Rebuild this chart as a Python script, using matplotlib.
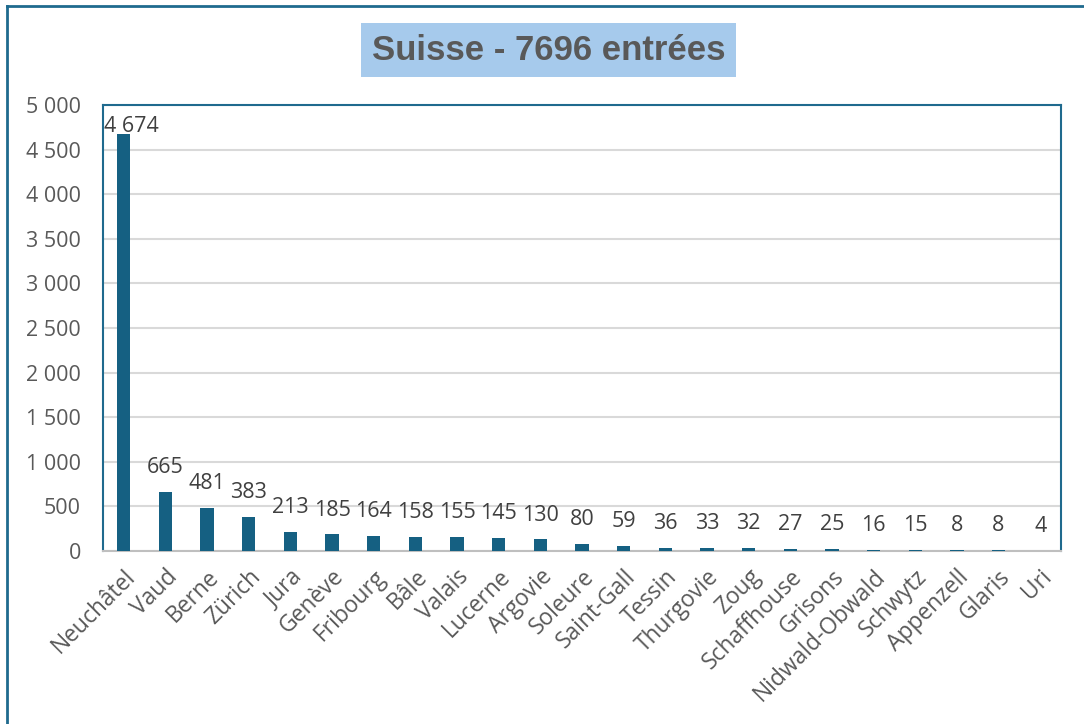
import matplotlib.pyplot as plt
import matplotlib.patches as patches
from matplotlib.lines import Line2D
import numpy as np

cantons = ["Neuchâtel", "Vaud", "Berne", "Zürich", "Jura", "Genève", "Fribourg",
           "Bâle", "Valais", "Lucerne", "Argovie", "Soleure", "Saint-Gall", "Tessin",
           "Thurgovie", "Zoug", "Schaffhouse", "Grisons", "Nidwald-Obwald", "Schwytz",
           "Appenzell", "Glaris", "Uri"]
entries = [4674, 665, 481, 383, 213, 185, 164, 158, 155, 145, 130, 80, 59, 36,
           33, 32, 27, 25, 16, 15, 8, 8, 4]
title_text = "Suisse - 7696 entrées"

barColor = "#156082"
frameColor = "#1F6A8E"
textGray = "#595959"
yMax = 5000
fs = 15.5


def fmt(v):
    return "{:,}".format(int(v)).replace(",", " ")


plt.rcParams['font.family'] = ['Open Sans', 'DejaVu Sans']

fig = plt.figure(figsize=(10.84, 7.24), dpi=100)
W, H = 1084.0, 724.0

# outer chart frame: only left and top edges show in the reference
fig.lines.append(Line2D([7 / W, 7 / W], [0, 1 - 6 / H], transform=fig.transFigure,
                        color=frameColor, linewidth=2))
fig.lines.append(Line2D([7 / W, 1.0], [1 - 6 / H, 1 - 6 / H], transform=fig.transFigure,
                        color=frameColor, linewidth=2))

# title box
fig.patches.append(patches.Rectangle((361 / W, 1 - 77 / H), 375 / W, 54 / H,
                                     transform=fig.transFigure,
                                     facecolor="#A6CAEC", edgecolor="none"))
fig.text(548.5 / W, 1 - 51 / H, title_text, ha='center', va='center',
         fontsize=25, fontweight='bold', color=textGray,
         family=['Liberation Sans', 'DejaVu Sans'])

ax = fig.add_axes([103 / W, 1 - 551 / H, (1061 - 103) / W, (551 - 105) / H])
x = np.arange(len(cantons))
ax.bar(x, entries, width=0.32, color=barColor, zorder=3)

for xi, v in zip(x, entries):
    if v > yMax * 0.9:
        # label would leave the plot area: keep it inside, like Excel does
        ax.annotate(fmt(v), (-0.5, yMax), xytext=(1, -8), textcoords='offset points',
                    ha='left', va='top', fontsize=fs, color="#404040")
    else:
        ax.annotate(fmt(v), (xi, v), xytext=(0, 10), textcoords='offset points',
                    ha='center', va='bottom', fontsize=fs, color="#404040")

ax.set_xlim(-0.5, len(cantons) - 0.5)
ax.set_ylim(0, yMax)
yt = np.arange(0, yMax + 1, 500)
ax.set_yticks(yt)
ax.set_yticklabels([fmt(t) for t in yt], fontsize=fs, color=textGray)
ax.set_xticks(x)
ax.set_xticklabels(cantons, rotation=45, ha='right', rotation_mode='anchor',
                   fontsize=16.4, color=textGray)
ax.tick_params(axis='both', length=0)
ax.tick_params(axis='y', pad=16)
ax.tick_params(axis='x', pad=10)

ax.grid(axis='y', color="#D9D9D9", linewidth=1.5, zorder=0)
ax.set_axisbelow(True)
for s in ['left', 'top', 'right']:
    ax.spines[s].set_color(frameColor)
    ax.spines[s].set_linewidth(1.5)
ax.spines['bottom'].set_color("#BFBFBF")
ax.spines['bottom'].set_linewidth(1.5)

fig.savefig("out.png", dpi=100)
